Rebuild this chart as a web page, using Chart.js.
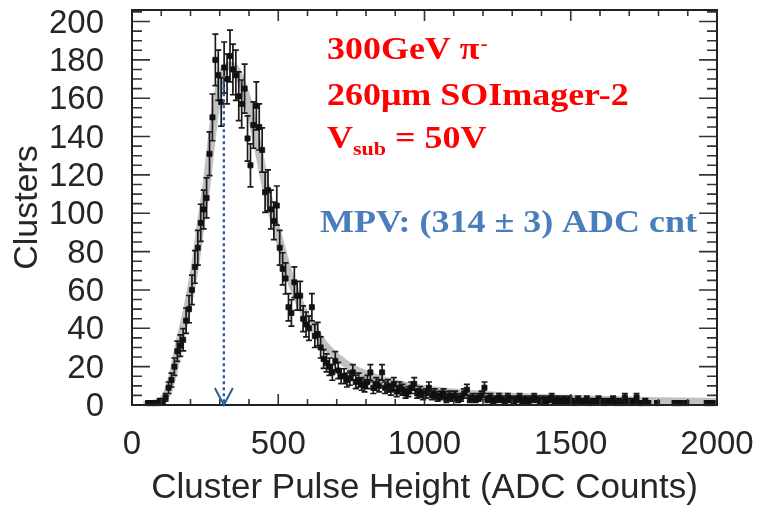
<!DOCTYPE html>
<html>
<head>
<meta charset="utf-8">
<script src="https://cdn.jsdelivr.net/npm/chart.js@4.4.1/dist/chart.umd.min.js"></script>
<style>
body{margin:0;background:#fff;}
#wrap{width:757px;height:509px;}
</style>
</head>
<body>
<div id="wrap"><canvas id="myChart" width="757" height="509"></canvas></div>
<script>
// histogram: 10 ADC bins from 0 to 2000, one row per 100 ADC
const BIN_WIDTH = 10;
const counts = [
  0,0,0,0,0,1,1,1,1,2,
  2,4,9,13,20,28,31,34,44,50,
  60,72,82,95,102,108,131,150,180,172,
  158,176,170,182,175,172,161,157,165,139,
  125,146,156,145,133,111,112,102,96,104,
  82,71,66,51,48,64,57,57,45,42,
  40,51,36,37,30,24,22,20,17,23,
  18,15,15,13,14,17,12,13,11,10,
  12,17,9,11,10,17,9,10,8,11,
  7,9,8,6,7,9,11,6,7,5,
  6,9,5,6,4,5,6,3,5,4,
  5,3,4,6,8,3,4,3,4,5,
  9,3,4,2,3,4,3,2,4,3,
  2,3,4,2,3,2,3,4,3,2,
  3,2,3,4,2,3,2,3,2,3,
  2,1,3,2,2,3,1,2,2,3,
  2,1,2,2,3,1,2,1,4,2,
  1,2,4,1,1,2,1,0,0,1,
  0,0,0,0,0,1,1,1,0,1,
  0,0,0,0,0,0,1,1,1,0
];
const errors = [
  0,0,0,0,0,1,1,1,1,1.4,
  1.4,2,3,3.6,4.5,5.3,5.6,5.8,6.6,7.1,
  7.7,8.5,9.1,9.7,10.1,10.4,11.4,12.2,13.4,13.1,
  12.6,13.3,13,13.5,13.2,13.1,12.7,12.5,12.8,11.8,
  11.2,12.1,12.5,12,11.5,10.5,10.6,10.1,9.8,10.2,
  9.1,8.4,8.1,7.1,6.9,8,7.5,7.5,6.7,6.5,
  6.3,7.1,6,6.1,5.5,4.9,4.7,4.5,4.1,4.8,
  4.2,3.9,3.9,3.6,3.7,4.1,3.5,3.6,3.3,3.2,
  3.5,4.1,3,3.3,3.2,4.1,3,3.2,2.8,3.3,
  2.6,3,2.8,2.4,2.6,3,3.3,2.4,2.6,2.2,
  2.4,3,2.2,2.4,2,2.2,2.4,1.7,2.2,2,
  2.2,1.7,2,2.4,2.8,1.7,2,1.7,2,2.2,
  3,1.7,2,1.4,1.7,2,1.7,1.4,2,1.7,
  1.4,1.7,2,1.4,1.7,1.4,1.7,2,1.7,1.4,
  1.7,1.4,1.7,2,1.4,1.7,1.4,1.7,1.4,1.7,
  1.4,1,1.7,1.4,1.4,1.7,1,1.4,1.4,1.7,
  1.4,1,1.4,1.4,1.7,1,1.4,1,2,1.4,
  1,1.4,2,1,1,1.4,1,0,0,1,
  0,0,0,0,0,1,1,1,0,1,
  0,0,0,0,0,0,1,1,1,0
];
// bin centres of the histogram
const binCenters = counts.map((c, i) => (i + 0.5) * BIN_WIDTH);

// fitted curve (Landau x Gauss)
const fitX = [40,70,100,120,140,160,190,215,235,255,275,295,315,335,355,380,400,430,460,490,520,550,580,620,660,700,750,800,860,920,1000,1100,1200,1300,1400,1500,1600,1700,1800,1900,2000];
const fitY = [0,0.6,2,6,16,31,51,72,94,115,142,163,175,177,175,166,156,135,112,94,77,62,51,40,31,25,19.5,16,12.8,10.5,8.3,6.5,5.2,4.3,3.6,3.1,2.7,2.3,2,1.8,1.6];

const MPV = 314;
const MPV_ERR = 3;
const xTicks = [0, 500, 1000, 1500, 2000];
const yTicks = [0, 20, 40, 60, 80, 100, 120, 140, 160, 180, 200];

var points = [];
for (let i = 0; i < counts.length; i++) {
  if (counts[i] > 0) points.push({x: binCenters[i], y: counts[i], e: errors[i]});
}
var fitPoints = fitX.map((v, i) => ({x: v, y: fitY[i]}));

const errorBars = {
  id: 'errorBars',
  beforeDatasetDraw(chart, args) {
    if (args.index !== 1) return;
    const {ctx, scales: {x, y}} = chart;
    ctx.save();
    ctx.strokeStyle = '#1a1a1a';
    ctx.lineWidth = 1.7;
    ctx.beginPath();
    for (let p of points) {
      if (p.e <= 0) continue;
      var px = x.getPixelForValue(p.x);
      var t = y.getPixelForValue(p.y + p.e);
      var b = y.getPixelForValue(Math.max(p.y - p.e, 0));
      ctx.moveTo(px, t); ctx.lineTo(px, b);
      ctx.moveTo(px - 3, t); ctx.lineTo(px + 3, t);
      ctx.moveTo(px - 3, b); ctx.lineTo(px + 3, b);
    }
    ctx.stroke();
    ctx.restore();
  }
};

const frame = {
  id: 'frame',
  afterDatasetsDraw(chart) {
    const {ctx, chartArea: a, scales: {x, y}} = chart;
    ctx.save();
    ctx.strokeStyle = '#333';
    ctx.lineWidth = 1.6;
    ctx.beginPath();
    for (let v = 0; v <= 2000; v += 100) {
      var px = x.getPixelForValue(v);
      var len = v % 500 === 0 ? 11 : 6;
      ctx.moveTo(px, a.bottom); ctx.lineTo(px, a.bottom - len);
      ctx.moveTo(px, a.top); ctx.lineTo(px, a.top + len);
    }
    for (let v = 0; v <= 205; v += 5) {
      var py = y.getPixelForValue(v);
      var len2 = v % 20 === 0 ? 18 : 10;
      ctx.moveTo(a.left, py); ctx.lineTo(a.left + len2, py);
      ctx.moveTo(a.right, py); ctx.lineTo(a.right - len2, py);
    }
    ctx.stroke();
    ctx.strokeStyle = '#222';
    ctx.lineWidth = 2;
    ctx.strokeRect(a.left, a.top, a.right - a.left, a.bottom - a.top);
    ctx.restore();
  }
};

function scaledText(ctx, str, x, y, font, color, sx) {
  ctx.save();
  ctx.font = font;
  ctx.fillStyle = color;
  ctx.translate(x, y);
  ctx.scale(sx, 1);
  ctx.fillText(str, 0, 0);
  var w = ctx.measureText(str).width * sx;
  ctx.restore();
  return w;
}

const notes = {
  id: 'notes',
  afterDraw(chart) {
    const {ctx, scales: {x, y}} = chart;
    // MPV marker
    var mx = x.getPixelForValue(MPV);
    var top = y.getPixelForValue(172);
    var bot = y.getPixelForValue(0);
    ctx.save();
    ctx.strokeStyle = '#2f5d9b';
    ctx.lineWidth = 2.4;
    ctx.setLineDash([3, 3]);
    ctx.beginPath();
    ctx.moveTo(mx, top); ctx.lineTo(mx, bot);
    ctx.stroke();
    ctx.setLineDash([]);
    ctx.lineWidth = 2;
    ctx.beginPath();
    ctx.moveTo(mx - 9, bot - 17); ctx.lineTo(mx, bot); ctx.lineTo(mx + 9, bot - 17);
    ctx.stroke();
    ctx.restore();

    var big = 'bold 31px "Liberation Serif"';
    var small = 'bold 19px "Liberation Serif"';
    var red = '#ff0000';
    var sx = 1.16;
    ctx.textBaseline = 'alphabetic';
    var w = scaledText(ctx, '300GeV \u03c0', 327, 59, big, red, sx);
    scaledText(ctx, '-', 327 + w + 1, 50, small, red, sx);
    scaledText(ctx, '260\u03bcm SOImager-2', 327, 105, big, red, sx);
    var w1 = scaledText(ctx, 'V', 327, 148, big, red, sx);
    var w2 = scaledText(ctx, 'sub', 327 + w1, 155, small, red, sx);
    scaledText(ctx, ' = 50V', 327 + w1 + w2, 148, big, red, sx);
    scaledText(ctx, 'MPV: (' + MPV + ' \u00b1 ' + MPV_ERR + ') ADC cnt', 320, 232, big, '#4a7ebb', sx);
  }
};

const axisColor = '#262626';
new Chart('myChart', {
  type: 'scatter',
  data: {
    datasets: [
      {
        type: 'line',
        data: fitPoints,
        borderColor: 'rgba(160,160,160,0.65)',
        borderWidth: 8,
        pointRadius: 0,
        fill: false,
        cubicInterpolationMode: 'monotone',
        order: 2
      },
      {
        type: 'scatter',
        data: points,
        pointStyle: 'rect',
        pointRadius: 3.6,
        backgroundColor: '#111',
        borderColor: '#111',
        borderWidth: 0.8,
        clip: false,
        order: 1
      }
    ]
  },
  options: {
    responsive: false,
    animation: false,
    events: [],
    layout: {padding: {top: 10, right: 40, left: 0, bottom: 0}},
    plugins: {legend: {display: false}, tooltip: {enabled: false}},
    scales: {
      x: {
        type: 'linear', min: 0, max: 2000,
        afterBuildTicks: s => { s.ticks = xTicks.map(v => ({value: v})); },
        afterFit: s => { s.height = 104; s.paddingLeft = 0; s.paddingRight = 0; },
        ticks: {font: {family: 'Liberation Sans', size: 33}, color: axisColor, padding: 12, maxRotation: 0,
                callback: v => String(v)},
        grid: {display: false},
        border: {display: false},
        title: {display: true, text: 'Cluster Pulse Height (ADC Counts)', color: axisColor,
                font: {family: 'Liberation Sans', size: 35}, padding: {top: 0, bottom: 0}}
      },
      y: {
        type: 'linear', min: 0, max: 206,
        afterBuildTicks: s => { s.ticks = yTicks.map(v => ({value: v})); },
        afterFit: s => { s.width = 132; s.paddingTop = 0; s.paddingBottom = 0; },
        ticks: {font: {family: 'Liberation Sans', size: 33}, color: axisColor, padding: 20, autoSkip: false,
                labelOffset: 2, callback: v => String(v)},
        grid: {display: false},
        border: {display: false},
        title: {display: true, text: 'Clusters', color: axisColor,
                font: {family: 'Liberation Sans', size: 34}, padding: {top: 7, bottom: 0}}
      }
    }
  },
  plugins: [errorBars, frame, notes]
});
</script>
</body>
</html>
